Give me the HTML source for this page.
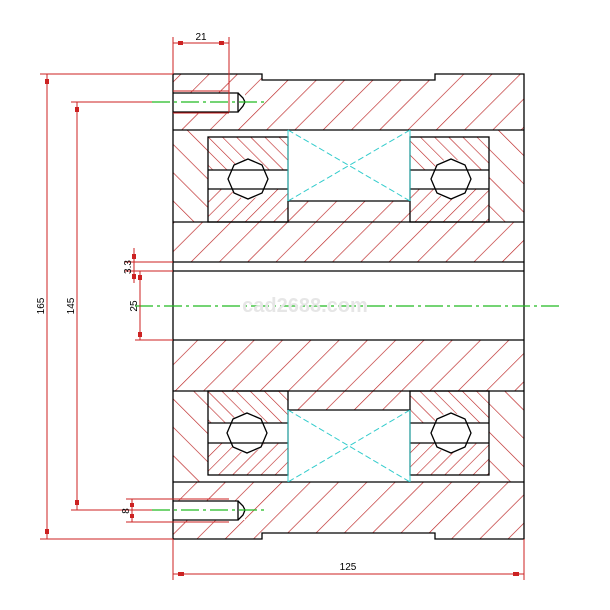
<!DOCTYPE html>
<html><head><style>body{margin:0;background:#fff}svg{display:block}</style></head><body>
<svg width="610" height="610" viewBox="0 0 610 610" xmlns="http://www.w3.org/2000/svg" font-family="Liberation Sans, sans-serif">
<defs>
<pattern id="hA" patternUnits="userSpaceOnUse" width="20" height="20" patternTransform="rotate(45)"><line x1="0" y1="0" x2="0" y2="20" stroke="#b22" stroke-width="1.3"/></pattern>
<pattern id="hB" patternUnits="userSpaceOnUse" width="20" height="20" patternTransform="rotate(-45)"><line x1="0" y1="0" x2="0" y2="20" stroke="#b22" stroke-width="1.3"/></pattern>
<pattern id="hC" patternUnits="userSpaceOnUse" width="10" height="10" patternTransform="rotate(-45)"><line x1="0" y1="0" x2="0" y2="10" stroke="#b22" stroke-width="1.2"/></pattern>
<pattern id="hD" patternUnits="userSpaceOnUse" width="10" height="10" patternTransform="rotate(45)"><line x1="0" y1="0" x2="0" y2="10" stroke="#b22" stroke-width="1.2"/></pattern>
</defs>
<g stroke="none">
<polygon points="173,74 262,74 262,80 435,80 435,74 524,74 524,130 173,130" fill="url(#hA)"/>
<rect x="288" y="201" width="122" height="21" fill="url(#hA)"/>
<rect x="173" y="222" width="351" height="40" fill="url(#hA)"/>
<rect x="173" y="130" width="35" height="92" fill="url(#hB)"/>
<rect x="489" y="130" width="35" height="92" fill="url(#hB)"/>
<rect x="208" y="137" width="80" height="33" fill="url(#hC)"/>
<rect x="410" y="137" width="79" height="33" fill="url(#hC)"/>
<rect x="208" y="189" width="80" height="33" fill="url(#hD)"/>
<rect x="410" y="189" width="79" height="33" fill="url(#hD)"/>
<rect x="173" y="340" width="351" height="51" fill="url(#hA)"/>
<rect x="288" y="391" width="122" height="19" fill="url(#hA)"/>
<polygon points="173,482 524,482 524,539 435,539 435,533 262,533 262,539 173,539" fill="url(#hA)"/>
<rect x="173" y="391" width="35" height="91" fill="url(#hB)"/>
<rect x="489" y="391" width="35" height="91" fill="url(#hB)"/>
<rect x="208" y="391" width="80" height="32" fill="url(#hC)"/>
<rect x="410" y="391" width="79" height="32" fill="url(#hC)"/>
<rect x="208" y="443" width="80" height="32" fill="url(#hD)"/>
<rect x="410" y="443" width="79" height="32" fill="url(#hD)"/>
<circle cx="248" cy="179" r="20" fill="#fff"/><circle cx="451" cy="179" r="20" fill="#fff"/>
<circle cx="247" cy="433" r="20" fill="#fff"/><circle cx="451" cy="433" r="20" fill="#fff"/>
<rect x="173" y="93" width="72" height="19" fill="#fff"/>
<rect x="173" y="501" width="72" height="19" fill="#fff"/>
</g>
<g stroke="#000" stroke-width="1.3" fill="none">
<polyline points="173,74 262,74 262,80 435,80 435,74 524,74 524,539 435,539 435,533 262,533 262,539 173,539 173,74"/>
<line x1="173" y1="130" x2="524" y2="130"/><line x1="173" y1="222" x2="524" y2="222"/>
<line x1="173" y1="262" x2="524" y2="262"/><line x1="173" y1="271" x2="524" y2="271"/>
<line x1="173" y1="340" x2="524" y2="340"/><line x1="173" y1="391" x2="524" y2="391"/>
<line x1="173" y1="482" x2="524" y2="482"/>
<rect x="208" y="137" width="80" height="85"/><rect x="410" y="137" width="79" height="85"/>
<line x1="208" y1="170" x2="288" y2="170"/><line x1="208" y1="189" x2="288" y2="189"/>
<line x1="410" y1="170" x2="489" y2="170"/><line x1="410" y1="189" x2="489" y2="189"/>
<line x1="288" y1="201" x2="410" y2="201"/>
<rect x="208" y="391" width="80" height="84"/><rect x="410" y="391" width="79" height="84"/>
<line x1="208" y1="423" x2="288" y2="423"/><line x1="208" y1="443" x2="288" y2="443"/>
<line x1="410" y1="423" x2="489" y2="423"/><line x1="410" y1="443" x2="489" y2="443"/>
<line x1="288" y1="410" x2="410" y2="410"/>
<polygon points="248,159 262,165 268,179 262,193 248,199 234,193 228,179 234,165"/>
<polygon points="451,159 465,165 471,179 465,193 451,199 437,193 431,179 437,165"/>
<polygon points="247,413 261,419 267,433 261,447 247,453 233,447 227,433 233,419"/>
<polygon points="451,413 465,419 471,433 465,447 451,453 437,447 431,433 437,419"/>
<polyline points="173,93 238,93 238,112 173,112"/><polyline points="238,93 243,98 245,102 243,106 238,112"/>
<polyline points="173,501 238,501 238,520 173,520"/><polyline points="238,501 243,506 245,510 243,515 238,520"/>
</g>
<g stroke="#3cc" stroke-width="1" stroke-dasharray="6,3">
<line x1="288" y1="130" x2="410" y2="201"/><line x1="410" y1="130" x2="288" y2="201"/>
<line x1="288" y1="410" x2="410" y2="482"/><line x1="410" y1="410" x2="288" y2="482"/>
</g>
<line x1="288" y1="130" x2="288" y2="201" stroke="#3cc"/><line x1="410" y1="130" x2="410" y2="201" stroke="#3cc"/>
<line x1="288" y1="410" x2="288" y2="482" stroke="#3cc"/><line x1="410" y1="410" x2="410" y2="482" stroke="#3cc"/>
<g stroke="#2b2" stroke-width="1.2" stroke-dasharray="18,4,3,4">
<line x1="152" y1="102" x2="268" y2="102"/><line x1="152" y1="510" x2="268" y2="510"/>
<line x1="135" y1="306" x2="562" y2="306"/>
</g>
<text x="305" y="312" font-size="20" font-weight="bold" fill="#e6e6e6" text-anchor="middle">cad2688.com</text>
<g stroke="#c22" stroke-width="1" fill="none">
<line x1="40" y1="74" x2="173" y2="74"/><line x1="40" y1="539" x2="173" y2="539"/>
<line x1="47" y1="74" x2="47" y2="539"/>
<line x1="71" y1="102" x2="152" y2="102"/><line x1="71" y1="510" x2="152" y2="510"/>
<line x1="77" y1="102" x2="77" y2="510"/>
<line x1="173" y1="37" x2="173" y2="74"/><line x1="229" y1="37" x2="229" y2="112"/>
<line x1="173" y1="43" x2="229" y2="43"/>
<line x1="173" y1="91" x2="229" y2="91"/><line x1="173" y1="113" x2="229" y2="113"/>
<line x1="173" y1="539" x2="173" y2="580"/><line x1="524" y1="539" x2="524" y2="580"/>
<line x1="173" y1="574" x2="524" y2="574"/>
<line x1="125" y1="262" x2="173" y2="262"/><line x1="125" y1="271" x2="173" y2="271"/>
<line x1="134" y1="248" x2="134" y2="283"/>
<line x1="135" y1="340" x2="173" y2="340"/><line x1="140" y1="271" x2="140" y2="340"/>
<line x1="126" y1="499" x2="229" y2="499"/><line x1="126" y1="522" x2="229" y2="522"/>
<line x1="132" y1="499" x2="132" y2="522"/>
</g>
<g fill="#c22">
<rect x="45" y="79" width="4" height="5"/><rect x="45" y="529" width="4" height="5"/>
<rect x="75" y="107" width="4" height="5"/><rect x="75" y="500" width="4" height="5"/>
<rect x="178" y="41" width="5" height="4"/><rect x="219" y="41" width="5" height="4"/>
<rect x="178" y="572" width="6" height="4"/><rect x="513" y="572" width="6" height="4"/>
<rect x="132" y="254" width="4" height="5"/><rect x="132" y="274" width="4" height="5"/>
<rect x="138" y="275" width="4" height="5"/><rect x="138" y="332" width="4" height="5"/>
<rect x="130" y="503" width="4" height="4"/><rect x="130" y="514" width="4" height="4"/>
</g>
<g font-size="10" fill="#000" text-anchor="middle">
<text x="201" y="40">21</text>
<text x="348" y="570">125</text>
<text transform="translate(44,306) rotate(-90)">165</text>
<text transform="translate(74,306) rotate(-90)">145</text>
<text transform="translate(131,267) rotate(-90)">3.3</text>
<text transform="translate(137,306) rotate(-90)">25</text>
<text transform="translate(129,511) rotate(-90)">8</text>
</g>
</svg>
</body></html>
